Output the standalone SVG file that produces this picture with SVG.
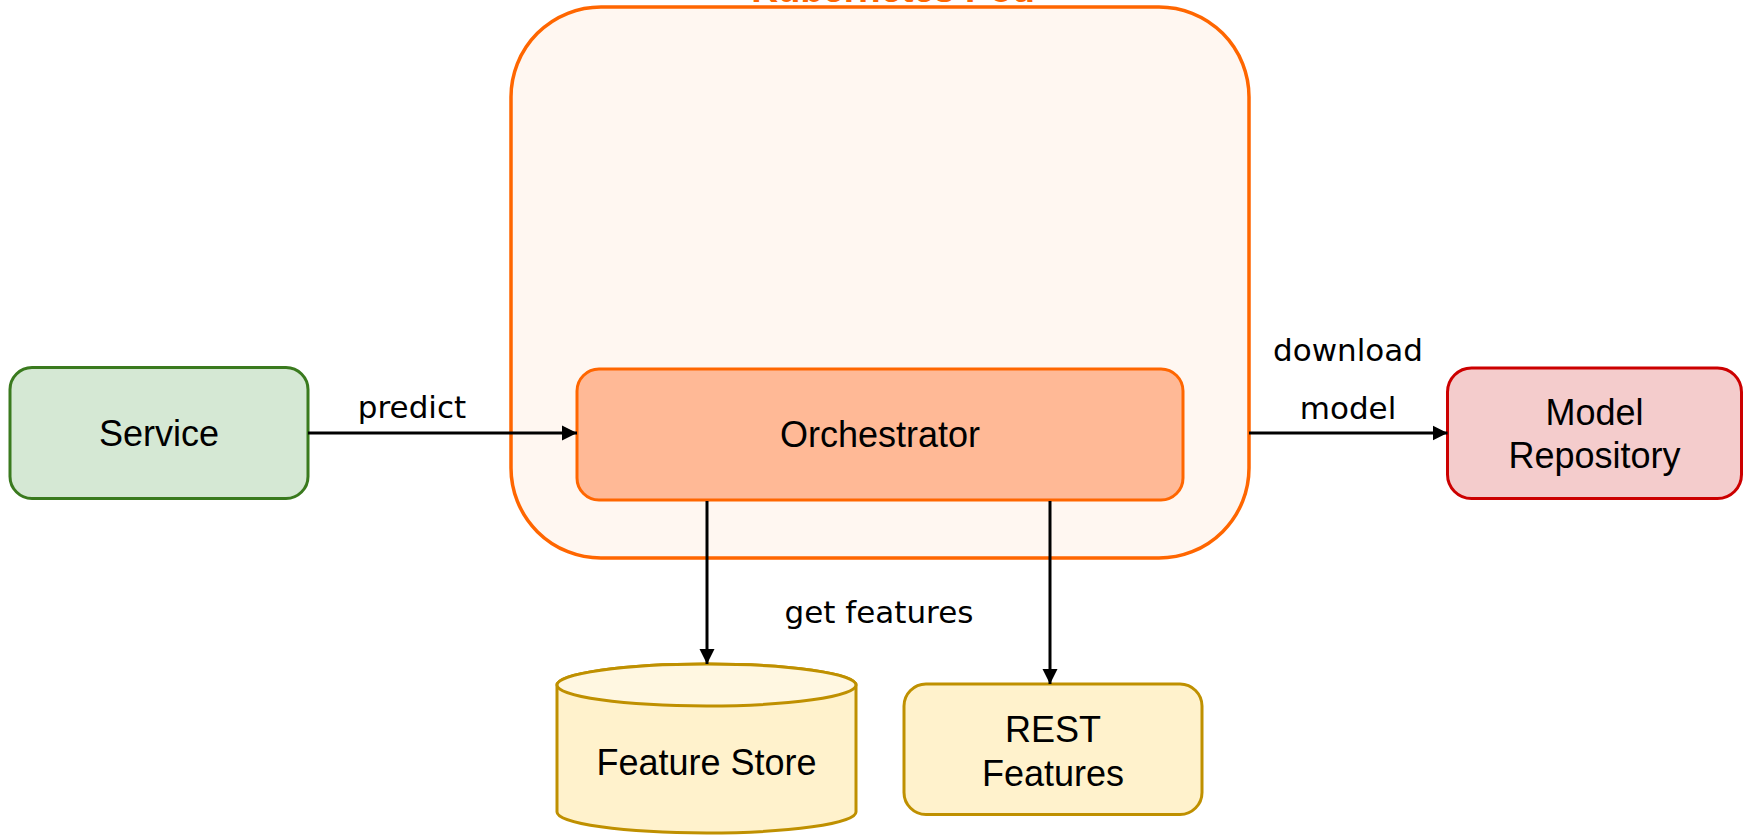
<svg xmlns="http://www.w3.org/2000/svg" width="1744" height="836" viewBox="0 0 1744 836">
  <style>
    .node-label { font-family: "Liberation Sans", Arial, sans-serif; font-size: 36px; fill: #000; text-anchor: middle; }
    .edge-label { font-family: "DejaVu Sans", Verdana, sans-serif; font-size: 31px; fill: #000; text-anchor: middle; }
    .edge { stroke: #000; stroke-width: 3; fill: none; marker-end: url(#arrow); }
  </style>
  <defs>
    <marker id="arrow" viewBox="0 0 10 10" refX="10" refY="5" markerWidth="15" markerHeight="16" markerUnits="userSpaceOnUse" orient="auto">
      <path d="M0,0 L10,5 L0,10 Z" fill="#000"/>
    </marker>
  </defs>

  <!-- Kubernetes pod container -->
  <g id="pod">
    <rect x="511" y="7" width="738" height="551" rx="90" ry="90" fill="#FFF7F1" stroke="#FF6600" stroke-width="3.5"/>
    <text x="893" y="2" font-family="Liberation Sans, Arial, sans-serif" font-size="37" font-weight="bold" fill="#FF6600" text-anchor="middle">Kubernetes Pod</text>
  </g>

  <g id="service">
    <rect x="10" y="367.5" width="298" height="131" rx="22" ry="22" fill="#D5E8D4" stroke="#3A7A1E" stroke-width="3"/>
    <text class="node-label" x="159" y="446">Service</text>
  </g>

  <g id="orchestrator">
    <rect x="577" y="369" width="606" height="131" rx="22" ry="22" fill="#FFB996" stroke="#FF6600" stroke-width="3"/>
    <text class="node-label" x="880" y="447">Orchestrator</text>
  </g>

  <g id="model-repository">
    <rect x="1447.5" y="368" width="294" height="130.5" rx="24" ry="24" fill="#F4CCCC" stroke="#CC0000" stroke-width="3"/>
    <text class="node-label" x="1594.5" y="425">Model</text>
    <text class="node-label" x="1594.5" y="468">Repository</text>
  </g>

  <g id="feature-store">
    <path d="M557,685 A149.5,21 0 0 1 856,685 L856,812 A149.5,21 0 0 1 557,812 Z" fill="#FFF2CC" stroke="#BF9000" stroke-width="3"/>
    <path d="M557,685 A149.5,21 0 0 1 856,685 A149.5,21 0 0 1 557,685 Z" fill="#FFF7E1" stroke="#BF9000" stroke-width="3"/>
    <text class="node-label" x="706.5" y="775">Feature Store</text>
  </g>

  <g id="rest-features">
    <rect x="904" y="684" width="298" height="130.5" rx="22" ry="22" fill="#FFF2CC" stroke="#BF9000" stroke-width="3"/>
    <text class="node-label" x="1053" y="742">REST</text>
    <text class="node-label" x="1053" y="786">Features</text>
  </g>

  <!-- connectors -->
  <g id="connectors">
    <line class="edge" x1="308" y1="433" x2="577" y2="433"/>
    <text class="edge-label" x="412" y="418">predict</text>

    <line class="edge" x1="1249" y1="433" x2="1447.5" y2="433"/>
    <text class="edge-label" x="1348" y="361">download</text>
    <text class="edge-label" x="1348" y="419">model</text>

    <line class="edge" x1="707" y1="501" x2="707" y2="664"/>
    <text class="edge-label" x="879" y="623">get features</text>

    <line class="edge" x1="1050" y1="501" x2="1050" y2="684"/>
  </g>
</svg>
